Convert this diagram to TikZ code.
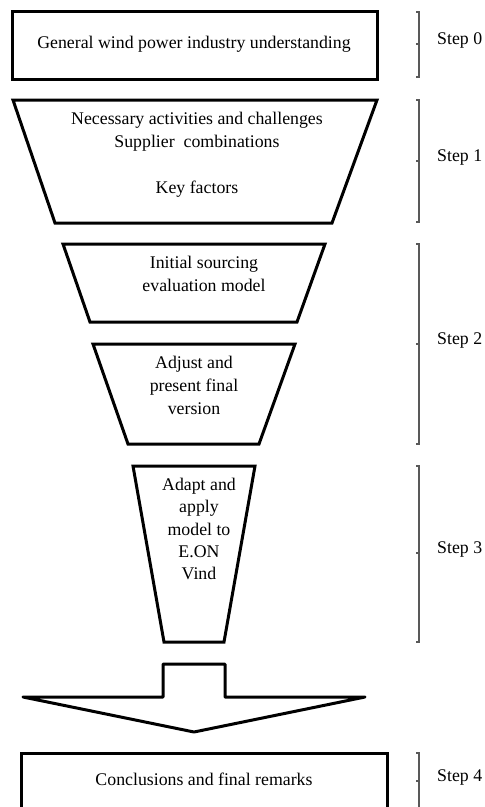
\documentclass[tikz,border=0pt]{standalone}
\usepackage{fontspec}
\setmainfont{Liberation Serif}
\begin{document}
\begin{tikzpicture}[x=1pt,y=-1pt,
  outline/.style={draw=black,line width=3pt,line join=miter},
  blockarrow/.style={draw=black,line width=3pt,line join=round},
  bracketline/.style={draw=black!65,line width=1.4pt},
  body/.style={align=center,font=\fontsize{17.8}{23}\selectfont,inner sep=0pt},
  steplabel/.style={anchor=west,font=\fontsize{17.8}{23}\selectfont,inner sep=0pt}]
\useasboundingbox (0,0) rectangle (485,807);
\clip (0,0) rectangle (485,807);

% Step 0: overview box
\draw[outline] (12,11) rectangle (377,79);
\node[body] (t0) at (194,44) {General wind power industry understanding};

% Step 1: wide funnel segment
\draw[outline] (13,100) -- (377,100) -- (332,223) -- (55,223) -- cycle;
\node[body] (t1) at (197,155) {Necessary activities and challenges\\Supplier\ \ combinations\\[23pt]Key factors};

% Step 2: two narrower segments
\draw[outline] (63,244) -- (325,244) -- (297,322) -- (90,322) -- cycle;
\node[body] (t2) at (204,274) {Initial sourcing\\evaluation model};
\draw[outline] (93,344) -- (295,344) -- (259,444) -- (128,444) -- cycle;
\node[body] (t3) at (194,385) {Adjust and\\present final\\version};

% Step 3: narrowest segment
\draw[outline] (133,466) -- (255,466) -- (224,642) -- (164,642) -- cycle;
\node[body,font=\fontsize{17.8}{22.2}\selectfont] (t4) at (199,529) {Adapt and\\apply\\model to\\E.ON\\Vind};

% block arrow down to the conclusions
\draw[blockarrow] (163,697) -- (163,664) -- (225,664) -- (225,697) -- (365,697) -- (194,732) -- (23,697) -- cycle;

% Step 4: conclusions box (runs past the lower edge)
\draw[outline] (21,753) rectangle (387,815);
\node[body] (t5) at (204,779) {Conclusions and final remarks};

% brackets with step labels
\foreach \top/\bot/\mid/\lab/\name in {12/77/44/Step 0/s0, 100/222/161/Step 1/s1, 244/444/344/Step 2/s2, 466/642/553/Step 3/s3, 753/809/781/Step 4/s4}{
  \draw[bracketline] (416,\top) -- (419,\top) -- (419,\bot) -- (416,\bot);
  \draw[bracketline] (419,\mid) -- (415.5,\mid);
  \node[steplabel] (\name) at (437,\mid-4) {\lab};
}
\end{tikzpicture}
\end{document}
